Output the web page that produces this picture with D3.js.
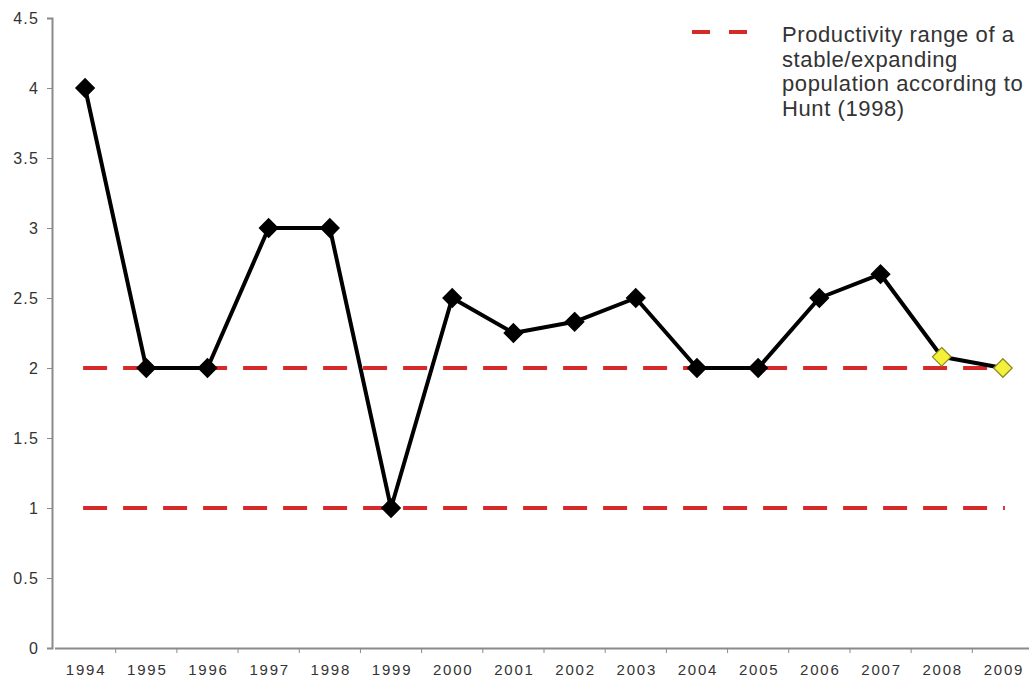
<!DOCTYPE html>
<html><head><meta charset="utf-8">
<script src="https://cdn.jsdelivr.net/npm/d3@7"></script>
<style>body{margin:0;background:#fff}svg{display:block}</style>
</head><body>
<script>
const years = ["1994","1995","1996","1997","1998","1999","2000","2001","2002","2003","2004","2005","2006","2007","2008","2009"];
const values = [4,2,2,3,3,1,2.5,2.25,2.33,2.5,2,2,2.5,2.67,2.08,2];
const highlighted = ["2008","2009"];
const rangeValues = [2,1];
const yTicks = [0,0.5,1,1.5,2,2.5,3,3.5,4,4.5];
const legendLines = ["Productivity range of a","stable/expanding","population according to","Hunt (1998)"];

const W=1029,H=682;
const FONT="Arial, 'Liberation Sans', sans-serif";
const svg=d3.select("body").append("svg").attr("width",W).attr("height",H);
const x=d3.scaleBand().domain(years).range([54.5,1033.5]);
const y=d3.scaleLinear().domain([0,4.5]).range([648,18]);
const cx=d=>x(d)+x.bandwidth()/2;

// y axis
const ya=svg.append("g").attr("transform","translate(52,0)")
  .call(d3.axisLeft(y).tickValues(yTicks).tickFormat(d=>String(d)).tickSize(5));
ya.select(".domain").attr("stroke","#8a8a8a").attr("stroke-width",2);
ya.selectAll(".tick line").attr("stroke","#8a8a8a");
ya.selectAll(".tick text").attr("font-family",FONT).attr("font-size",16).attr("fill","#333")
  .attr("letter-spacing",1.2).attr("x",-13);

// x axis
const xa=svg.append("g").attr("transform","translate(0,648)")
  .call(d3.axisBottom(x).tickSize(0).tickPadding(16));
xa.select(".domain").attr("stroke","#8a8a8a").attr("stroke-width",2);
xa.selectAll(".tick text").attr("font-family",FONT).attr("font-size",15).attr("fill","#333")
  .attr("letter-spacing",1.8).attr("dx",1);
svg.append("g").selectAll("line").data(years.slice(1)).join("line")
  .attr("x1",d=>x(d)).attr("x2",d=>x(d)).attr("y1",648).attr("y2",653)
  .attr("stroke","#8a8a8a").attr("stroke-width",1);

// range lines
svg.append("g").selectAll("line").data(rangeValues).join("line")
  .attr("x1",cx(years[0])-2).attr("x2",cx(years[years.length-1])+2)
  .attr("y1",d=>y(d)).attr("y2",d=>y(d))
  .attr("stroke","#d42a2a").attr("stroke-width",4).attr("stroke-dasharray","24,16");

// series line
const data=years.map((yr,i)=>({yr,v:values[i]}));
svg.append("path").datum(data)
  .attr("d",d3.line().x(d=>cx(d.yr)).y(d=>y(d.v)))
  .attr("fill","none").attr("stroke","#000").attr("stroke-width",4).attr("stroke-linejoin","round");

// markers
const sym=d3.symbol().type(d3.symbolDiamond2).size(220);
svg.append("g").selectAll("path").data(data).join("path")
  .attr("d",sym)
  .attr("transform",d=>`translate(${cx(d.yr)},${y(d.v)})`)
  .attr("fill",d=>highlighted.includes(d.yr)?"#f5f03a":"#000")
  .attr("stroke",d=>highlighted.includes(d.yr)?"#8a8a20":"#000")
  .attr("stroke-width",1.2);

// legend
svg.append("line").attr("x1",692).attr("x2",748).attr("y1",32).attr("y2",32)
  .attr("stroke","#d42a2a").attr("stroke-width",4).attr("stroke-dasharray","18,19");
svg.append("g").selectAll("text").data(legendLines).join("text")
  .attr("x",782).attr("y",(d,i)=>42+i*24.6)
  .attr("font-family",FONT).attr("font-size",22).attr("fill","#333").attr("letter-spacing",0.6)
  .text(d=>d);
</script>
</body></html>
